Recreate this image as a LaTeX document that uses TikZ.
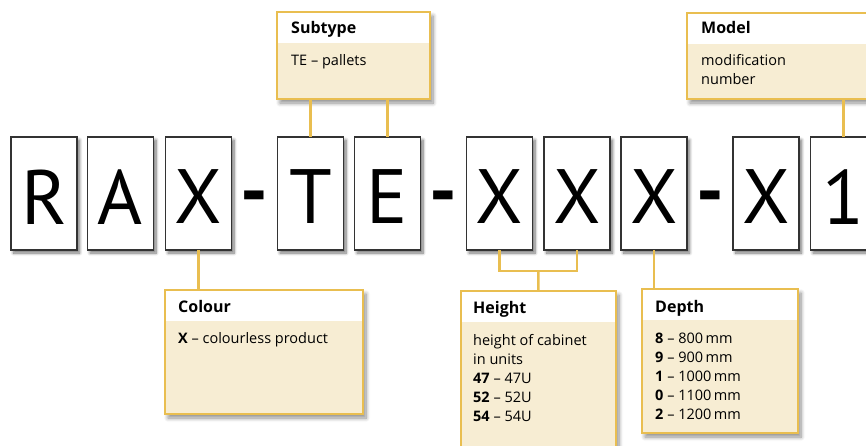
\documentclass[tikz,border=0pt]{standalone}
\usepackage{fontspec}
\setmainfont{PT Sans}
\newfontfamily\boxfont{Open Sans}
\usetikzlibrary{shadows,shadows.blur}
\definecolor{gold}{RGB}{233,190,80}
\definecolor{cream}{RGB}{247,237,211}
\tikzset{
  tile/.style={draw=black!80, line width=1.3pt, fill=white, minimum width=66, minimum height=113, inner sep=0pt, outer sep=0pt,
    blur shadow={shadow xshift=2.5pt, shadow yshift=-3pt, shadow blur radius=3pt, shadow opacity=55, shadow blur steps=8}},
  letter/.style={inner sep=0pt, font=\fontsize{77}{77}\selectfont},
  dashmark/.style={inner sep=0pt, font=\fontsize{77}{77}\selectfont\bfseries},
  infobox/.style={fill=cream, draw=gold, line width=2.5pt, inner sep=0pt, outer sep=0pt, anchor=north west,
    blur shadow={shadow xshift=3pt, shadow yshift=-4pt, shadow blur radius=4pt, shadow opacity=45, shadow blur steps=8}},
  boxtitle/.style={anchor=base west, inner sep=0pt, font=\boxfont\fontsize{16}{19}\selectfont\bfseries},
  boxbody/.style={anchor=north west, inner sep=0pt, align=left, font=\boxfont\fontsize{14.5}{19}\selectfont},
  conn/.style={draw=gold, line width=2.5pt},
}
\newcommand{\infoheader}[1]{%
  \fill[white] (#1.north west) rectangle ([yshift=-31pt]#1.north east);
  \draw[gold, line width=2.5pt] (#1.north west) rectangle (#1.south east);}
\begin{document}
\begin{tikzpicture}[x=1pt,y=-1pt]
\useasboundingbox (0,0) rectangle (866,445);
% tiles
\foreach \n/\x/\c in {t1/44/R, t2/120.5/A, t3/198.5/X, t4/310.5/T, t5/387.5/E, t6/499.5/X, t7/577/X, t8/654/X, t9/766/X, t10/843.5/1}{
  \node[tile] (\n) at (\x,193.5) {};
  \node[letter] (l\n) at ([yshift=-3.5pt]\n.center) {\c};
}
\node[dashmark] (d1) at (254.5,204) {-};
\node[dashmark] (d2) at (443,204) {-};
\node[dashmark] (d3) at (710.5,204) {-};
% info boxes
\node[infobox, minimum width=153, minimum height=87] (subtype) at (277,12) {};
\infoheader{subtype}
\node[infobox, minimum width=195, minimum height=86] (model) at (687,13) {};
\infoheader{model}
\node[infobox, minimum width=198, minimum height=124] (colour) at (165,290) {};
\infoheader{colour}
\node[infobox, minimum width=155, minimum height=170] (height) at (461,291) {};
\infoheader{height}
\node[infobox, minimum width=156, minimum height=144] (depth) at (642,289) {};
\infoheader{depth}
% connectors
\draw[conn] (t4.north) -- (t4.north |- subtype.south);
\draw[conn] (t5.north) -- (t5.north |- subtype.south);
\draw[conn] (t10.north) -- (t10.north |- model.south);
\draw[conn] (t3.south) -- (t3.south |- colour.north);
\coordinate (hbar) at (538.25,271);
\draw[conn] (t6.south) |- (hbar) -| (t7.south);
\draw[conn] (hbar) -- (height.north);
\draw[conn] (t8.south) -- (t8.south |- depth.north);
% texts
\node[boxtitle] (subtypeT) at (291,33) {Subtype};
\node[boxbody] (subtypeB) at (291,54) {TE – pallets};
\node[boxtitle] (modelT) at (701,33) {Model};
\node[boxbody] (modelB) at (701,54) {modification\\number};
\node[boxtitle] (colourT) at (178,312) {Colour};
\node[boxbody] (colourB) at (178,332) {\textbf{X} – colourless product};
\node[boxtitle] (heightT) at (473,313) {Height};
\node[boxbody] (heightB) at (473,334) {height of cabinet\\in units\\\textbf{47} – 47U\\\textbf{52} – 52U\\\textbf{54} – 54U};
\node[boxtitle] (depthT) at (655,312) {Depth};
\node[boxbody] (depthB) at (655,332.6) {\textbf{8} – 800\,mm\\\textbf{9} – 900\,mm\\\textbf{1} – 1000\,mm\\\textbf{0} – 1100\,mm\\\textbf{2} – 1200\,mm};
\end{tikzpicture}
\end{document}
